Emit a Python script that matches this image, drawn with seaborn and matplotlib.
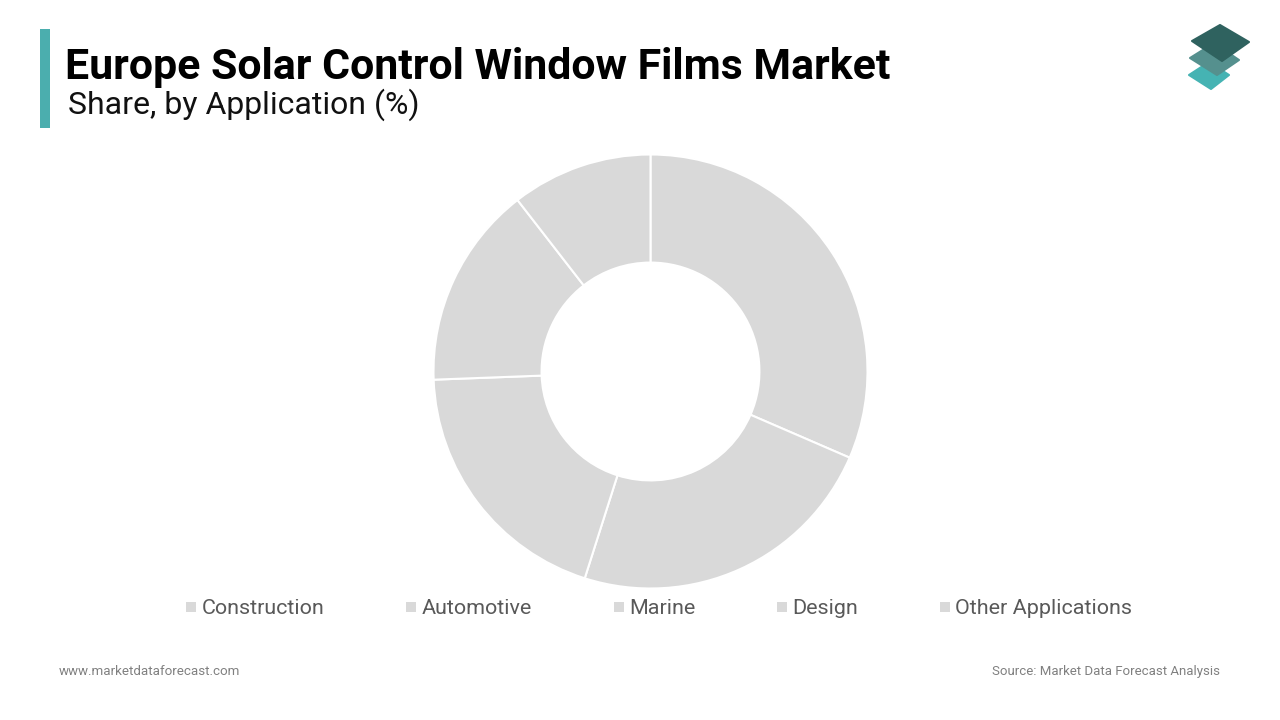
import matplotlib
matplotlib.use("Agg")
import matplotlib.pyplot as plt
from matplotlib.patches import Polygon, Rectangle
from matplotlib.lines import Line2D
import seaborn as sns

categories = ["Construction", "Automotive", "Marine", "Design", "Other Applications"]
shares = [31.5, 23.4, 19.5, 15.1, 10.5]
slice_colors = ["#D9D9D9"] * 5
title = "Europe Solar Control Window Films Market"
subtitle = "Share, by Application (%)"
footer_left = "www.marketdataforecast.com"
footer_right = "Source: Market Data Forecast Analysis"

sns.set_theme(style="white")
plt.rcParams["font.family"] = ["Roboto", "DejaVu Sans"]

W, H = 1280, 720
fig = plt.figure(figsize=(W / 100, H / 100), dpi=100, facecolor="white")

# overlay in pixel coordinates
bg = fig.add_axes([0, 0, 1, 1])
bg.set_xlim(0, W)
bg.set_ylim(H, 0)
bg.axis("off")
bg.add_patch(Rectangle((40, 29), 10, 99, color="#4BAEAE", lw=0))
bg.text(65, 79, title, fontsize=30.86, fontweight="bold", color="#000000", va="baseline", ha="left")
bg.text(67.5, 113.5, subtitle, fontsize=23.05, color="#111111", va="baseline", ha="left")
bg.text(59, 675, footer_left, fontsize=9.65, color="#808080", va="baseline", ha="left")
bg.text(1220, 675, footer_right, fontsize=9.57, color="#808080", va="baseline", ha="right")

# logo
logo_kw = dict(closed=True, lw=1.5, joinstyle="round")
bg.add_patch(Polygon([(1209, 62), (1229, 75), (1211, 89), (1189, 75)], color="#45B3B3", **logo_kw))
bg.add_patch(Polygon([(1214, 43), (1239, 60), (1217, 75), (1190, 58)], color="#55908E", **logo_kw))
bg.add_patch(Polygon([(1220, 25), (1249, 42), (1222, 61), (1192, 41)], color="#2F625F", **logo_kw))

# donut
cx, cy, R = 650.5, 371.5, 217
ax = fig.add_axes([(cx - R) / W, 1 - (cy + R) / H, 2 * R / W, 2 * R / H])
ax.pie(shares, colors=slice_colors, startangle=90, counterclock=False, radius=1,
       wedgeprops=dict(width=0.498, edgecolor="white", linewidth=1.5))
ax.set_xlim(-1, 1)
ax.set_ylim(-1, 1)
ax.set_aspect("equal")

handles = [Line2D([], [], linestyle="none", marker="s", markersize=6.5, markeredgewidth=0, color=c)
           for c in slice_colors]
leg = bg.legend(handles, categories, ncol=5, frameon=False, loc="center",
                bbox_to_anchor=(658.5 / W, 1 - 608.5 / H), bbox_transform=fig.transFigure,
                fontsize=15.45, labelcolor="#595959", columnspacing=3.75, handletextpad=0.18,
                handlelength=0.6, borderpad=0, borderaxespad=0)

fig.savefig("out.png", dpi=100, facecolor="white")
